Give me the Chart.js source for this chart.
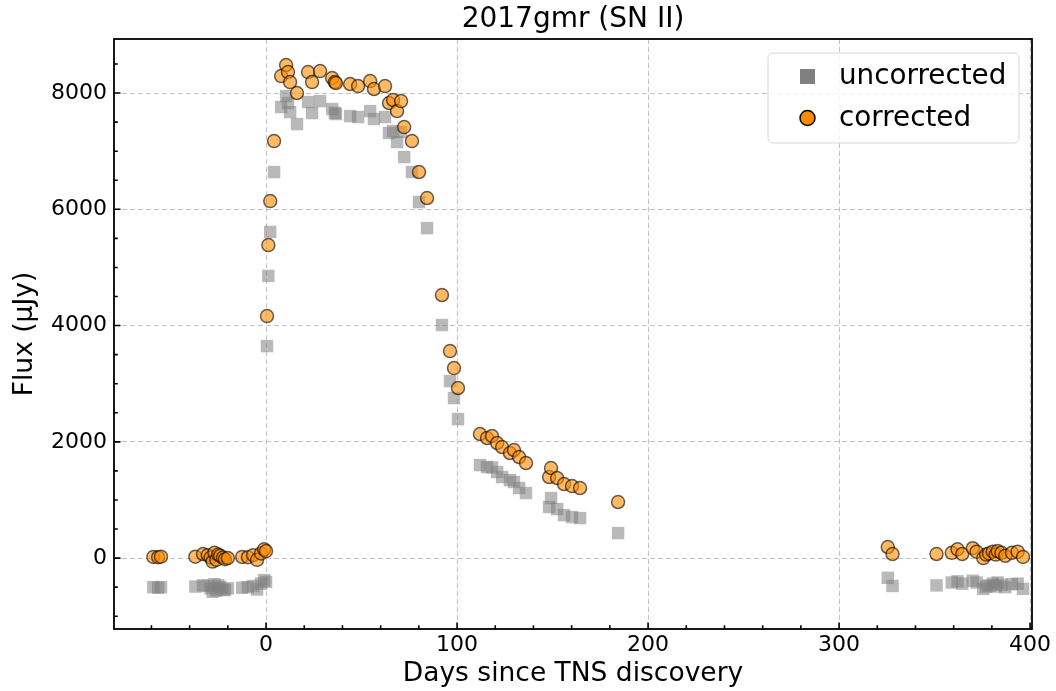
<!DOCTYPE html>
<html>
<head>
<meta charset="utf-8">
<script src="https://cdn.jsdelivr.net/npm/chart.js@4.4.1/dist/chart.umd.min.js"></script>
<style>
  body { margin: 0; background: #fff; }
  canvas { display: block; }
</style>
</head>
<body>
<canvas id="lcChart" width="1056" height="691"></canvas>
<script>
// days since TNS discovery, flux in uJy
const days = [
    -59, -56.5, -55, -37, -33, -30.5, -29, -28, -27, -26, -25, -24, -22.5, -21.5, -20,
    -12.5, -9.5, -6.8, -4.7, -2.6, -1, 0,
    0.5, 1.2, 2.2, 4.2, 7.9, 10.5, 11.5, 12.6, 16.2, 22, 24.1, 28.3, 34.6, 36, 36.6,
    44, 48.2, 54.5, 56.5, 62.3, 64.4, 66.5, 68.6, 70.7, 72.3, 76.4, 80.1, 84.3,
    92.1, 96.3, 98.4, 100.5, 112, 115.7, 118.3, 121, 123.6, 127.7, 129.8, 132.5, 136.1,
    148.2, 149.2, 152.4, 156, 160.2, 164.4, 184.3,
    325.5, 328, 351, 359, 362, 364.5, 370, 372, 375.5, 377, 378.5, 380.5, 382, 383,
    385, 387, 390.5, 393.5, 396.3
];
const fluxCorrected = [
    20, 15, 25, 25, 70, 50, 10, -60, 90, -30, 60, 40, 10, -20, 0,
    20, 15, 50, -30, 80, 150, 120,
    4163, 5385, 6142, 7174, 8292, 8482, 8361, 8189, 8000, 8361, 8189, 8378, 8258, 8190, 8172,
    8155, 8120, 8206, 8069, 8120, 7828, 7880, 7690, 7862, 7415, 7174, 6641, 6194,
    4525, 3561, 3269, 2925, 2134, 2065, 2100, 1979, 1910, 1807, 1859, 1738, 1635,
    1394, 1549, 1377, 1274, 1239, 1205, 964,
    190, 70, 70, 90, 150, 70, 170, 110, 0, 60, 80, 110, 60, 120,
    90, 40, 90, 110, 20
];
const fluxUncorrected = [
    -500, -510, -500, -490, -470, -480, -520, -580, -450, -560, -470, -500, -540, -550, -520,
    -510, -500, -480, -540, -440, -380, -410,
    3647, 4854, 5611, 6641, 7759, 7948, 7828, 7673, 7467, 7845, 7656, 7862, 7725, 7660, 7639,
    7604, 7587, 7690, 7553, 7587, 7312, 7346, 7157, 7329, 6899, 6641, 6125, 5677,
    4009, 3045, 2753, 2391, 1600, 1566, 1560, 1480, 1394, 1342, 1308, 1205, 1119,
    878, 1033, 843, 740, 706, 688, 430,
    -340, -480, -470, -420, -400, -440, -390, -420, -530, -490, -470, -440, -490, -420,
    -460, -500, -450, -440, -530
];

const xMajorTicks = [0, 100, 200, 300, 400];
const yMajorTicks = [0, 2000, 4000, 6000, 8000];
const xMinorStep = 20;
const yMinorStep = 500;
const chartTitle = '2017gmr (SN II)';

const FONT = "'DejaVu Sans', sans-serif";

function toPoints(ys) {
    return days.map((d, i) => ({ x: d, y: ys[i] }));
}

// box, inward ticks, title over the axes and the legend, drawn like matplotlib
const mplFrame = {
    id: 'mplFrame',
    afterDraw(chart) {
        const ctx = chart.ctx;
        const a = chart.chartArea;
        const xs = chart.scales.x, ys = chart.scales.y;
        ctx.save();
        ctx.strokeStyle = '#000';
        ctx.lineWidth = 1.6;
        ctx.beginPath();
        for (let v = Math.ceil(xs.min / xMinorStep) * xMinorStep; v <= xs.max; v += xMinorStep) {
            const px = xs.getPixelForValue(v);
            const len = xMajorTicks.includes(v) ? 6.5 : 3.8;
            ctx.moveTo(px, a.bottom);
            ctx.lineTo(px, a.bottom - len);
        }
        for (let v = Math.ceil(ys.min / yMinorStep) * yMinorStep; v <= ys.max; v += yMinorStep) {
            const py = ys.getPixelForValue(v);
            const len = yMajorTicks.includes(v) ? 6.5 : 3.8;
            ctx.moveTo(a.left, py);
            ctx.lineTo(a.left + len, py);
        }
        ctx.stroke();
        ctx.lineWidth = 1.8;
        ctx.strokeRect(a.left, a.top, a.right - a.left, a.bottom - a.top);

        // title, centred on the axes
        ctx.fillStyle = '#000';
        ctx.font = '28px ' + FONT;
        ctx.textAlign = 'center';
        ctx.textBaseline = 'middle';
        ctx.fillText(chartTitle, (a.left + a.right) / 2, 20);

        // legend
        const bx = 768, by = 53, bw = 251, bh = 90;
        ctx.beginPath();
        ctx.roundRect(bx, by, bw, bh, 5);
        ctx.fillStyle = 'rgba(255,255,255,0.8)';
        ctx.fill();
        ctx.lineWidth = 1;
        ctx.strokeStyle = '#d6d6d6';
        ctx.stroke();

        const ds = chart.data.datasets;
        ctx.font = '27.8px ' + FONT;
        ctx.textAlign = 'left';
        ctx.fillStyle = '#808080';
        ctx.fillRect(800, 69, 15, 15);
        ctx.fillStyle = '#000';
        ctx.fillText(ds[1].label, 839, 77);
        ctx.beginPath();
        ctx.arc(807.5, 118, 7.5, 0, Math.PI * 2);
        ctx.fillStyle = '#ff8c00';
        ctx.fill();
        ctx.lineWidth = 1.5;
        ctx.strokeStyle = '#000';
        ctx.stroke();
        ctx.fillStyle = '#000';
        ctx.fillText(ds[0].label, 839, 119);
        ctx.restore();
    }
};

const ctx = document.getElementById('lcChart').getContext('2d');
const chart = new Chart(ctx, {
    type: 'scatter',
    data: {
        datasets: [{
            label: 'corrected',
            data: toPoints(fluxCorrected),
            pointStyle: 'circle',
            pointRadius: 6.5,
            backgroundColor: 'rgba(255,140,0,0.6)',
            borderColor: 'rgba(0,0,0,0.6)',
            borderWidth: 1.5,
            order: 0
        }, {
            label: 'uncorrected',
            data: toPoints(fluxUncorrected),
            pointStyle: 'rect',
            pointRadius: 8.8,
            backgroundColor: 'rgba(128,128,128,0.55)',
            borderWidth: 0,
            order: 1
        }]
    },
    options: {
        responsive: false,
        animation: false,
        layout: { padding: { left: 0, right: 24, top: 39, bottom: 0 } },
        plugins: {
            legend: { display: false },
            tooltip: { enabled: false },
            title: { display: false }
        },
        scales: {
            x: {
                type: 'linear',
                min: -79.6,
                max: 401,
                afterBuildTicks: s => { s.ticks = xMajorTicks.map(v => ({ value: v })); },
                afterFit: s => { s.height = 62; },
                ticks: {
                    color: '#000',
                    font: { family: FONT, size: 22 },
                    padding: 3,
                    maxRotation: 0,
                    callback: v => String(v)
                },
                grid: {
                    drawTicks: false,
                    color: 'rgba(176,176,176,0.75)',
                    lineWidth: 1
                },
                border: { display: false, dash: [5, 3] },
                title: {
                    display: true,
                    text: 'Days since TNS discovery',
                    color: '#000',
                    font: { family: FONT, size: 26.5 },
                    padding: { top: 0, bottom: 1 }
                }
            },
            y: {
                type: 'linear',
                min: -1220,
                max: 8930,
                afterBuildTicks: s => { s.ticks = yMajorTicks.map(v => ({ value: v })); },
                afterFit: s => { s.width = 114; },
                ticks: {
                    color: '#000',
                    font: { family: FONT, size: 22 },
                    padding: 7,
                    callback: v => String(v)
                },
                grid: {
                    drawTicks: false,
                    color: 'rgba(176,176,176,0.75)',
                    lineWidth: 1
                },
                border: { display: false, dash: [5, 3] },
                title: {
                    display: true,
                    text: 'Flux (μJy)',
                    color: '#000',
                    font: { family: FONT, size: 26.5 },
                    padding: { top: 9, bottom: 0 }
                }
            }
        }
    },
    plugins: [mplFrame]
});
</script>
</body>
</html>
